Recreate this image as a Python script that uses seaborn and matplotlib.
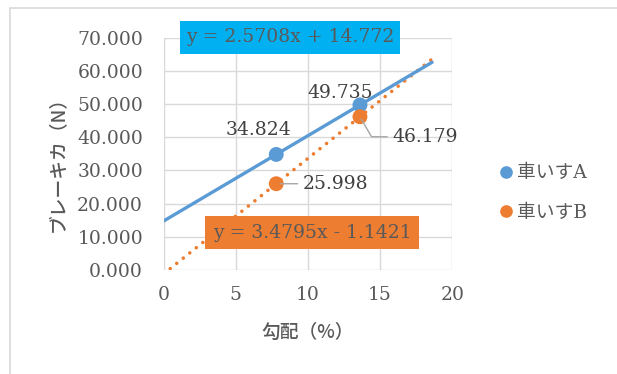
import numpy as np
import pandas as pd
import matplotlib
matplotlib.use("Agg")
import matplotlib.pyplot as plt
import seaborn as sns
from matplotlib.patches import Rectangle

# ---- data ----
series = ["車いすA", "車いすB"]
slope_pct = [7.8, 13.6]
force_a = [34.824, 49.735]
force_b = [25.998, 46.179]
trend_slope = [2.5708, 3.4795]
trend_intercept = [14.772, -1.1421]
equations = ["y = 2.5708x + 14.772", "y = 3.4795x - 1.1421"]
trend_x_range = [0.0, 18.6]
x_ticks = [0, 5, 10, 15, 20]
y_ticks = [0, 10, 20, 30, 40, 50, 60, 70]
x_label = "勾配（%）"
y_label = "ブレーキカ（N）"

colors = ["#5B9BD5", "#ED7D31"]
box_colors = ["#00B0F0", "#ED7D31"]
TXT = "#595959"
LBL = "#404040"
GRID = "#D9D9D9"

sns.set_style("white")
plt.rcParams["font.family"] = ["DejaVu Serif", "Noto Sans CJK JP"]
FS = 13.5

df = pd.DataFrame({
    "x": slope_pct * 2,
    "y": force_a + force_b,
    "s": [series[0]] * len(slope_pct) + [series[1]] * len(slope_pct),
})

W, H = 617, 374
fig = plt.figure(figsize=(W / 100, H / 100), dpi=100)
ax = fig.add_axes([163.7 / W, (H - 270) / H, 288.6 / W, 232.3 / H])

# outer chart border
fig.patches.append(Rectangle((9.5 / W, -0.05), 1.2, (H - 8) / H + 0.05,
                             transform=fig.transFigure, fill=False,
                             edgecolor=GRID, lw=1.2, zorder=0))

# trend lines
tx = np.array(trend_x_range)
ty_a = trend_slope[0] * tx + trend_intercept[0]
ty_b = trend_slope[1] * tx + trend_intercept[1]
sns.lineplot(x=tx, y=ty_a, ax=ax, color=colors[0], lw=2.4, zorder=4,
             legend=False)
ax.plot(tx, ty_b, color=colors[1], lw=2.6, linestyle=(0, (0.01, 2.3)),
        dash_capstyle="round", zorder=3)

sns.scatterplot(data=df, x="x", y="y", hue="s", palette=colors, s=115,
                edgecolor="none", ax=ax, zorder=6)

ax.set_xlim(0, 20)
ax.set_ylim(0, 70)
ax.set_xticks(x_ticks)
ax.set_yticks(y_ticks)
ax.set_yticklabels([f"{v:.3f}" for v in y_ticks])
ax.set_xticklabels([str(v) for v in x_ticks])
ax.grid(True, color=GRID, lw=1.0)
ax.set_axisbelow(True)
for sp in ax.spines.values():
    sp.set_visible(False)
ax.tick_params(axis="y", length=0, pad=14.9, labelsize=FS, labelcolor=TXT)
ax.tick_params(axis="x", length=0, pad=11.5, labelsize=FS, labelcolor=TXT)

ax.set_xlabel(x_label, family=["Noto Sans CJK JP"], fontsize=13.5, color=TXT,
              va="center", weight="medium")
ax.set_ylabel(y_label, family=["Noto Sans CJK JP"], fontsize=13.5, color=TXT,
              va="center", weight="medium")
ax.xaxis.set_label_coords(0.5, (270 - 332) / 232.3)
ax.yaxis.set_label_coords((57 - 163.7) / 288.6, (270 - 159) / 232.3)

# data labels
lab_a = [((-13, 17.3), "center"), ((-14.4, 8.6), "center")]
for (x, y), (off, ha) in zip(zip(slope_pct, force_a), lab_a):
    ax.annotate(f"{y:.3f}", xy=(x, y), xytext=off, textcoords="offset points",
                ha=ha, va="center", fontsize=FS, color=LBL, zorder=8)

ax.annotate(f"{force_b[0]:.3f}", xy=(slope_pct[0], force_b[0]),
            xytext=(18.7, 0), textcoords="offset points", ha="left",
            va="center", fontsize=FS, color=LBL, zorder=8,
            arrowprops=dict(arrowstyle="-", color="#A6A6A6", lw=1,
                            shrinkA=1, shrinkB=3, relpos=(0, 0.5)))
ax.annotate(f"{force_b[1]:.3f}", xy=(slope_pct[1], force_b[1]),
            xytext=(23, -14.4), textcoords="offset points", ha="left",
            va="center", fontsize=FS, color=LBL, zorder=8,
            arrowprops=dict(arrowstyle="-", color="#A6A6A6", lw=1,
                            shrinkA=1, shrinkB=2, relpos=(0, 0.5),
                            connectionstyle="angle,angleA=0,angleB=-60,rad=0"))

# equation boxes
boxes = [(180, 21, 400, 54), (205, 216, 419, 249)]
for (x0, y0, x1, y1), eq, bc in zip(boxes, equations, box_colors):
    fig.patches.append(Rectangle((x0 / W, (H - y1) / H), (x1 - x0) / W,
                                 (y1 - y0) / H, transform=fig.transFigure,
                                 facecolor=bc, edgecolor="none", zorder=9))
    fig.text((x0 + x1) / 2 / W, (H - (y0 + y1) / 2) / H, eq, ha="center",
             va="center", fontsize=FS, color=TXT, zorder=10)

# legend
handles, labels = ax.get_legend_handles_labels()
leg = ax.legend(handles, labels, loc="center left",
                bbox_to_anchor=(500 / W, (H - 193) / H),
                bbox_transform=fig.transFigure, frameon=False, fontsize=FS,
                handlelength=0.6, handletextpad=0.3, labelspacing=1.15,
                markerscale=0.85, borderpad=0, borderaxespad=0)
for t in leg.get_texts():
    t.set_color(TXT)

fig.savefig("out.png", dpi=100)
